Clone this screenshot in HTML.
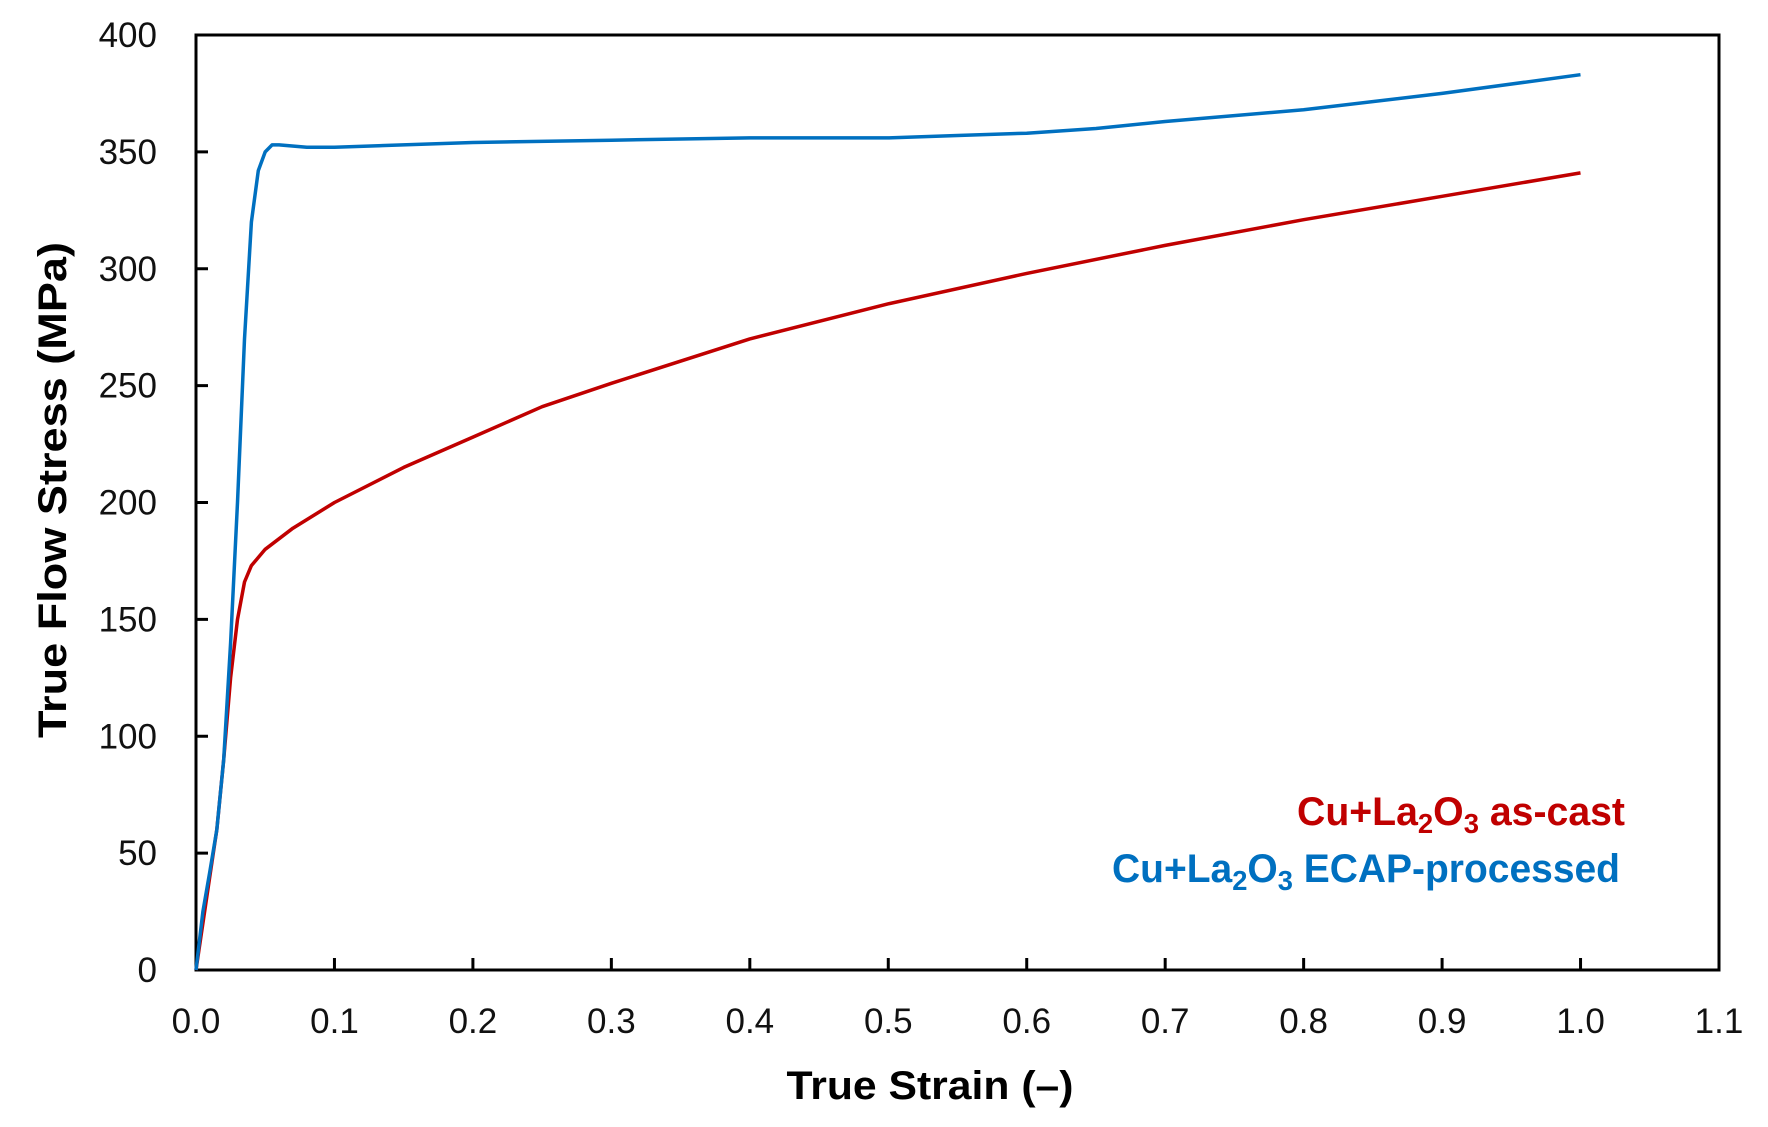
<!DOCTYPE html>
<html><head><meta charset="utf-8"><style>
html,body{margin:0;padding:0;background:#fff;}
svg{display:block;font-family:"Liberation Sans",Arial,sans-serif;}
</style></head><body>
<svg id="chart" width="1768" height="1127" viewBox="0 0 1768 1127" xmlns="http://www.w3.org/2000/svg">
<g id="axes"></g>
<g id="series"></g>
<text x="930" y="1099" text-anchor="middle" font-size="40" font-weight="bold" textLength="287" lengthAdjust="spacingAndGlyphs">True Strain (–)</text>
<text transform="translate(66,490) rotate(-90)" text-anchor="middle" font-size="40" font-weight="bold" textLength="496" lengthAdjust="spacingAndGlyphs">True Flow Stress (MPa)</text>
<text x="1625" y="825" text-anchor="end" font-size="40" font-weight="bold" fill="#c00000" textLength="328" lengthAdjust="spacingAndGlyphs">Cu+La<tspan font-size="28" dy="8">2</tspan><tspan dy="-8">O</tspan><tspan font-size="28" dy="8">3</tspan><tspan dy="-8"> as-cast</tspan></text>
<text x="1620" y="882" text-anchor="end" font-size="40" font-weight="bold" fill="#0070c0" textLength="508" lengthAdjust="spacingAndGlyphs">Cu+La<tspan font-size="28" dy="8">2</tspan><tspan dy="-8">O</tspan><tspan font-size="28" dy="8">3</tspan><tspan dy="-8"> ECAP-processed</tspan></text>
</svg>
<script>
const xTicks = [0.0,0.1,0.2,0.3,0.4,0.5,0.6,0.7,0.8,0.9,1.0,1.1];
const xTickLabels = ["0.0","0.1","0.2","0.3","0.4","0.5","0.6","0.7","0.8","0.9","1.0","1.1"];
const yTicks = [0,50,100,150,200,250,300,350,400];
const yTickLabels = ["0","50","100","150","200","250","300","350","400"];
const ecapStrain = [0,0.005,0.01,0.015,0.02,0.025,0.03,0.035,0.04,0.045,0.05,0.055,0.06,0.08,0.1,0.2,0.3,0.4,0.5,0.55,0.6,0.65,0.7,0.8,0.9,1.0];
const ecapStress = [0,25,42,60,90,140,200,270,320,342,350,353,353,352,352,354,355,356,356,357,358,360,363,368,375,383];
const castStrain = [0,0.005,0.01,0.015,0.02,0.025,0.03,0.035,0.04,0.05,0.07,0.1,0.15,0.2,0.25,0.3,0.4,0.5,0.6,0.7,0.8,0.9,1.0];
const castStress = [0,20,40,60,90,125,150,166,173,180,189,200,215,228,241,251,270,285,298,310,321,331,341];

const X0=196, X1=1719, Y0=970, Y1=35;
function sx(v){return X0+(v-0)/(1.1-0)*(X1-X0);}
function sy(v){return Y0-(v-0)/(400-0)*(Y0-Y1);}
const NS="http://www.w3.org/2000/svg";
const axes=document.getElementById('axes');
const series=document.getElementById('series');
function mk(tag,attrs,parent){const e=document.createElementNS(NS,tag);for(const k in attrs)e.setAttribute(k,attrs[k]);parent.appendChild(e);return e;}

const frame=mk('rect',{x:X0,y:Y1,width:X1-X0,height:Y0-Y1,fill:'none',stroke:'#000','stroke-width':3},axes);



xTicks.forEach((t,i)=>{
  const x=sx(t);
  if(i>0&&i<xTicks.length-1){
    const tk=mk('line',{x1:x,x2:x,y1:Y0,y2:Y0-12,stroke:'#000','stroke-width':3},axes);
    
    
  }
  const lb=mk('text',{x:x,y:1033,'text-anchor':'middle','font-size':35,fill:'#111'},axes);
  lb.textContent=xTickLabels[i];
  
  
});
yTicks.forEach((t,i)=>{
  const y=sy(t);
  if(i>0&&i<yTicks.length-1){
    const tk=mk('line',{x1:X0,x2:X0+12,y1:y,y2:y,stroke:'#000','stroke-width':3},axes);
    
    
  }
  const lb=mk('text',{x:157,y:y+12,'text-anchor':'end','font-size':35,fill:'#111'},axes);
  lb.textContent=yTickLabels[i];
  
  
});

function path(xs,ys){return xs.map((v,i)=>(i?'L':'M')+sx(v).toFixed(1)+','+sy(ys[i]).toFixed(1)).join(' ');}
const cast=mk('path',{d:path(castStrain,castStress),fill:'none',stroke:'#c00000','stroke-width':3.5,'stroke-linejoin':'round'},series);


const ecap=mk('path',{d:path(ecapStrain,ecapStress),fill:'none',stroke:'#0070c0','stroke-width':3.5,'stroke-linejoin':'round'},series);


</script>
</body></html>
